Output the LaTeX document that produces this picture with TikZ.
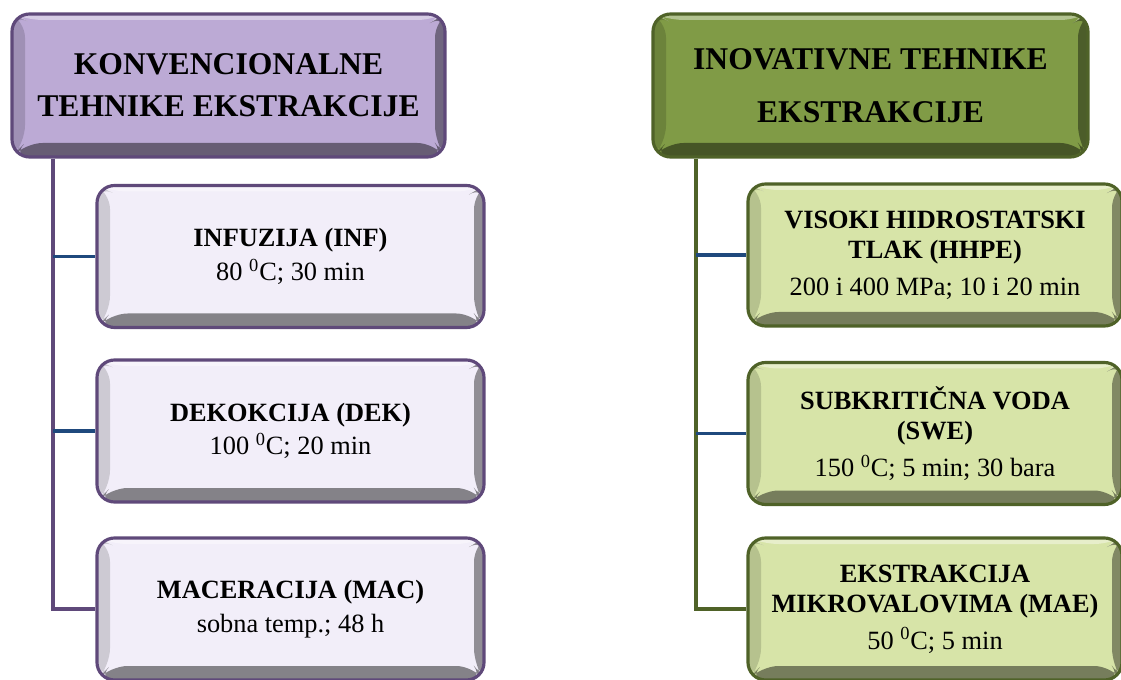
\documentclass[tikz,border=0pt]{standalone}
\usepackage{fontspec}
\setmainfont{Liberation Serif}
\usepackage{tikz}

\definecolor{konvedge}{HTML}{5F497A}
\definecolor{konvtop}{HTML}{BCAAD5}
\definecolor{konvfill}{HTML}{F2EEF9}
\definecolor{inovedge}{HTML}{4F6228}
\definecolor{inovtop}{HTML}{809B46}
\definecolor{inovfill}{HTML}{D7E4A8}
\definecolor{linkblue}{HTML}{1F497D}

\begin{document}
\begin{tikzpicture}[
    bevel/.style={path picture={
      \coordinate (nw) at (path picture bounding box.north west);
      \coordinate (ne) at (path picture bounding box.north east);
      \coordinate (sw) at (path picture bounding box.south west);
      \coordinate (se) at (path picture bounding box.south east);
      \fill[white, opacity=.4] (nw) -- (ne) -- ([shift={(-0.2,-0.12)}]ne) -- ([shift={(0.26,-0.12)}]nw) -- cycle;
      \fill[black, opacity=.15] (nw) -- ([shift={(0.26,-0.12)}]nw) -- ([shift={(0.26,0.28)}]sw) -- (sw) -- cycle;
      \fill[black, opacity=.4] (ne) -- ([shift={(-0.2,-0.12)}]ne) -- ([shift={(-0.2,0.28)}]se) -- (se) -- cycle;
      \fill[black, opacity=.45] (sw) -- ([shift={(0.26,0.28)}]sw) -- ([shift={(-0.2,0.28)}]se) -- (se) -- cycle;
    }},
    box/.style={line width=1.8pt, rounded corners=10pt, align=center, inner sep=0pt, bevel},
    konvhead/.style={box, draw=konvedge, fill=konvtop, minimum width=8.66cm, minimum height=2.86cm, font=\fontsize{18}{24}\selectfont\bfseries},
    inovhead/.style={box, draw=inovedge, fill=inovtop, minimum width=8.70cm, minimum height=2.86cm, font=\fontsize{18}{24}\selectfont\bfseries},
    konvbox/.style={box, draw=konvedge, fill=konvfill, minimum width=7.74cm, minimum height=2.84cm, font=\fontsize{15}{17}\selectfont},
    inovbox/.style={box, draw=inovedge, fill=inovfill, minimum width=7.48cm, minimum height=2.84cm, font=\fontsize{15}{17}\selectfont},
    konvline/.style={draw=konvedge, line width=2.2pt},
    inovline/.style={draw=inovedge, line width=2.2pt},
    bluelink/.style={draw=linkblue, line width=2pt}
  ]
    \useasboundingbox (0,0) rectangle (22.42,-13.6);

    % Conventional techniques
    \node[konvhead] (konv) at (4.57,-1.71) {KONVENCIONALNE\\TEHNIKE EKSTRAKCIJE};
    \node[konvbox] (inf) at (5.81,-5.13) {\textbf{INFUZIJA (INF)}\\[2pt]80~\textsuperscript{0}C; 30 min};
    \node[konvbox] (dek) at (5.81,-8.62) {\textbf{DEKOKCIJA (DEK)}\\[2pt]100~\textsuperscript{0}C; 20 min};
    \node[konvbox] (mac) at (5.81,-12.18) {\textbf{MACERACIJA (MAC)}\\[2pt]sobna temp.; 48 h};

    % Innovative techniques
    \node[inovhead] (inov) at (17.41,-1.71) {INOVATIVNE TEHNIKE\\[6pt]EKSTRAKCIJE};
    \node[inovbox] (hhpe) at (18.70,-5.10) {\textbf{VISOKI HIDROSTATSKI}\\\textbf{TLAK (HHPE)}\\[4pt]200 i 400 MPa; 10 i 20 min};
    \node[inovbox] (swe) at (18.70,-8.67) {\textbf{SUBKRITIČNA VODA}\\\textbf{(SWE)}\\[4pt]150~\textsuperscript{0}C; 5 min; 30 bara};
    \node[inovbox] (mae) at (18.70,-12.18) {\textbf{EKSTRAKCIJA}\\\textbf{MIKROVALOVIMA (MAE)}\\[4pt]50~\textsuperscript{0}C; 5 min};

    % Tree connectors
    \coordinate (ktrunk) at ([xshift=0.86cm]konv.south west);
    \draw[konvline] (ktrunk) |- (mac.west);
    \draw[bluelink] (inf.west -| ktrunk) -- (inf.west);
    \draw[bluelink] (dek.west -| ktrunk) -- (dek.west);

    \coordinate (itrunk) at ([xshift=0.9cm]inov.south west);
    \draw[inovline] (itrunk) |- (mae.west);
    \draw[bluelink] (hhpe.west -| itrunk) -- (hhpe.west);
    \draw[bluelink] (swe.west -| itrunk) -- (swe.west);
  \end{tikzpicture}
\end{document}
